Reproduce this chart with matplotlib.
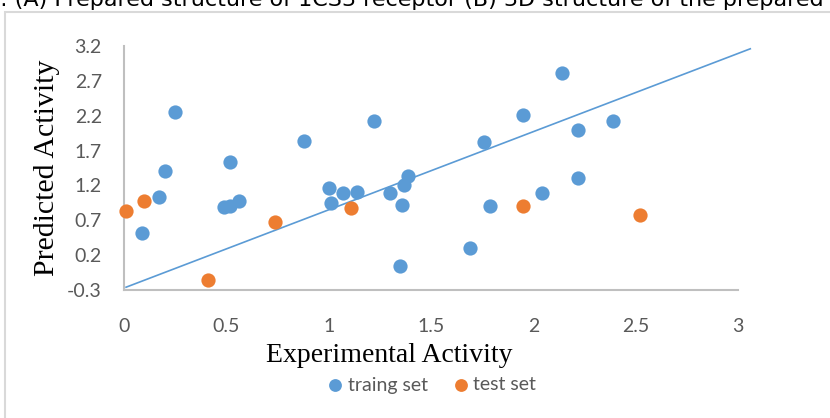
import matplotlib.pyplot as plt
from matplotlib.patches import Rectangle

# training set (experimental, predicted)
train_x = [0.09, 0.17, 0.20, 0.25, 0.52, 0.49, 0.52, 0.56, 0.88, 1.22, 1.00, 1.01,
           1.07, 1.14, 1.30, 1.36, 1.37, 1.39, 1.35, 1.69, 1.76, 1.79, 1.95, 2.04,
           2.14, 2.22, 2.22, 2.39]
train_y = [0.52, 1.03, 1.41, 2.26, 1.53, 0.89, 0.91, 0.97, 1.84, 2.13, 1.17, 0.95,
           1.09, 1.11, 1.09, 0.92, 1.21, 1.33, 0.04, 0.30, 1.82, 0.90, 2.21, 1.09,
           2.81, 2.00, 1.30, 2.13]

# test set
test_x = [0.01, 0.10, 0.41, 0.74, 1.11, 1.95, 2.52]
test_y = [0.84, 0.97, -0.15, 0.68, 0.87, 0.90, 0.78]

# trend line end points
trend_x = [0.01, 3.06]
trend_y = [-0.26, 3.16]

x_ticks = [0, 0.5, 1, 1.5, 2, 2.5, 3]
x_labels = ['0', '0.5', '1', '1.5', '2', '2.5', '3']
y_ticks = [-0.3, 0.2, 0.7, 1.2, 1.7, 2.2, 2.7, 3.2]
y_labels = ['-0.3', '0.2', '0.7', '1.2', '1.7', '2.2', '2.7', '3.2']

blue = '#5B9BD5'
orange = '#ED7D31'
grey = '#595959'

W, H = 830, 418
fig = plt.figure(figsize=(W / 100, H / 100), dpi=100)

# chart frame
fig.patches.append(Rectangle((5 / W, -0.1), 1.0, (H - 12) / H + 0.1,
                             transform=fig.transFigure, fill=False,
                             edgecolor='#D9D9D9', linewidth=1.5))

# caption line of the page above, cut by the screenshot
fig.text(824 / W, 1 - 6.5 / H, '1: (A) Prepared structure of 1CS3 receptor (B) 3D structure of the prepared',
         ha='right', va='baseline', fontsize=16, family='DejaVu Sans', color='black')

ax = fig.add_axes([124 / W, (H - 290) / H, (738 - 124) / W, (290 - 46) / H])
ax.scatter(train_x, train_y, s=105, color=blue, zorder=3, clip_on=False, label='traing set', linewidths=0)
ax.scatter(test_x, test_y, s=105, color=orange, zorder=3, clip_on=False, label='test set', linewidths=0)
ax.plot(trend_x, trend_y, color=blue, linewidth=1.2, clip_on=False, zorder=2)

ax.set_xlim(0, 3)
ax.set_ylim(-0.3, 3.2)
ax.set_xticks(x_ticks)
ax.set_xticklabels(x_labels)
ax.set_yticks(y_ticks)
ax.set_yticklabels(y_labels)
ax.tick_params(length=0, labelsize=14, labelcolor=grey)
ax.tick_params(axis='x', pad=20)
ax.tick_params(axis='y', pad=16)
for lab in ax.get_xticklabels() + ax.get_yticklabels():
    lab.set_family('Lato')

for side in ['top', 'right']:
    ax.spines[side].set_visible(False)
for side in ['left', 'bottom']:
    ax.spines[side].set_color('#BFBFBF')
    ax.spines[side].set_linewidth(1.5)

fig.text(389 / W, 1 - 362 / H, 'Experimental Activity', family='Liberation Serif', fontsize=20,
         ha='center', va='baseline')
ax.set_ylabel('Predicted Activity', family='Liberation Serif', fontsize=21.5, labelpad=5)

leg = fig.legend(loc='center', bbox_to_anchor=(426 / W, 1 - 385 / H), ncol=2, frameon=False,
                 handletextpad=-0.35, columnspacing=0.7, markerscale=0.9,
                 prop={'family': 'Lato', 'size': 14})
for t in leg.get_texts():
    t.set_color(grey)

fig.savefig('out.png', dpi=100)
